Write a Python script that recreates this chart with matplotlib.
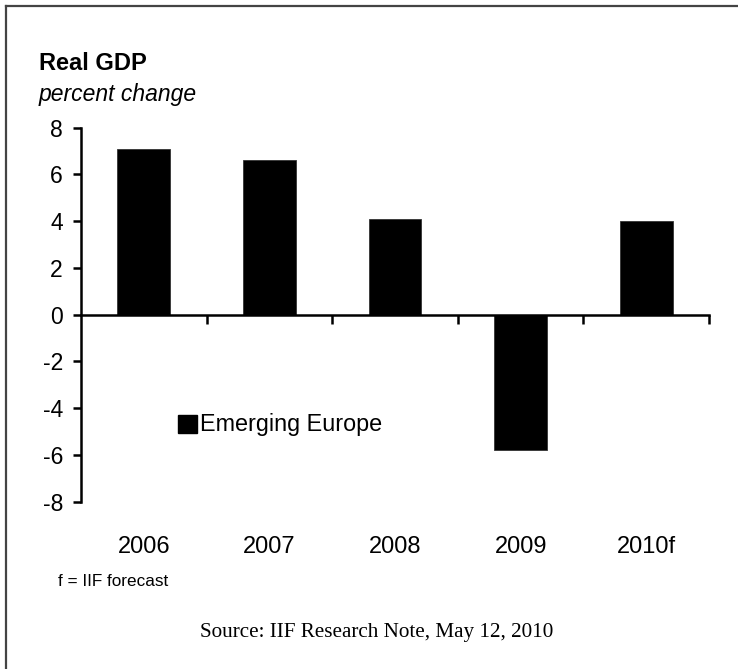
import matplotlib.pyplot as plt
from matplotlib.lines import Line2D

years = ['2006', '2007', '2008', '2009', '2010f']
gdp_change = [7.1, 6.6, 4.1, -5.8, 4.0]
yticks = [-8, -6, -4, -2, 0, 2, 4, 6, 8]
series_name = 'Emerging Europe'

plt.rcParams['font.family'] = ['Liberation Sans', 'DejaVu Sans']

fig = plt.figure(figsize=(7.38, 6.69), dpi=100)
ax = fig.add_axes([0.1098, 0.2501, 0.851, 0.559])

x = range(len(years))
ax.bar(x, gdp_change, width=0.42, color='black', edgecolor='#333333', linewidth=0.6)

ax.set_xlim(-0.5, len(years) - 0.5)
ax.set_ylim(-8, 8)
ax.set_yticks(yticks)
ax.set_yticklabels([str(v) for v in yticks], fontsize=16.5)
ax.tick_params(axis='y', direction='out', length=6, width=1.8, pad=7)

# category axis sits on the zero line, ticks at the boundaries between years
ax.spines['bottom'].set_position(('data', 0))
ax.spines['bottom'].set_linewidth(1.8)
ax.spines['left'].set_linewidth(1.8)
ax.spines['top'].set_visible(False)
ax.spines['right'].set_visible(False)
ax.set_xticks([i + 0.5 for i in x])
ax.set_xticklabels([])
ax.tick_params(axis='x', direction='out', length=6.5, width=1.8)

for i, yr in enumerate(years):
    ax.text(i, -0.12, yr, transform=ax.get_xaxis_transform(),
            ha='center', va='center', fontsize=17)

# legend swatch and label
ax.add_patch(plt.Rectangle((0.155, 0.183), 0.029, 0.048, transform=ax.transAxes,
                           color='black', clip_on=False))
ax.text(0.19, 0.207, series_name, transform=ax.transAxes, ha='left', va='center',
        fontsize=16.8)

fig.text(39 / 738, 1 - 63 / 669, 'Real GDP', fontsize=17, fontweight='bold',
         ha='left', va='center')
fig.text(39 / 738, 1 - 94 / 669, 'percent change', fontsize=16.5, style='italic',
         ha='left', va='center')
fig.text(58 / 738, 1 - 581 / 669, 'f = IIF forecast', fontsize=12.3,
         ha='left', va='center')
fig.text(377 / 738, 1 - 632 / 669, 'Source: IIF Research Note, May 12, 2010',
         family='Liberation Serif', fontsize=15.2, ha='center', va='center')

# frame lines along the top and left edges
fig.add_artist(Line2D([6.5 / 738, 6.5 / 738], [0, 1 - 5.5 / 669], color='#444444', lw=1.6))
fig.add_artist(Line2D([6.5 / 738, 1], [1 - 5.5 / 669, 1 - 5.5 / 669], color='#444444', lw=1.6))

fig.savefig('out.png', dpi=100)
